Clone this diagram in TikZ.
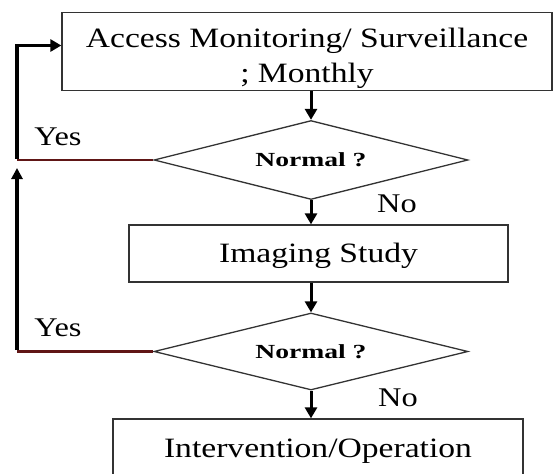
\documentclass[tikz,border=0pt]{standalone}
\usepackage{fontspec}
\setmainfont{Liberation Serif}[FakeStretch=1.2]
\newfontfamily\qfont{Liberation Serif}[FakeStretch=1.38]
\usetikzlibrary{shapes.geometric,arrows.meta}
\definecolor{loopred}{RGB}{96,22,22}

\begin{document}
\begin{tikzpicture}[x=1pt,y=-1pt,
	box/.style={draw=black!80, line width=1.3pt, inner sep=0pt, align=center, font=\fontsize{28}{35}\selectfont},
	onerow/.style={text height=18.5pt, text depth=0pt},
	test/.style={draw=black!80, diamond, line width=1.3pt, inner sep=0pt, minimum width=314pt, font=\qfont\fontsize{20}{24}\bfseries\selectfont},
	lbl/.style={inner sep=0pt, font=\fontsize{27}{32}\selectfont},
	arr/.style={line width=3pt, -{Triangle[width=12pt,length=11pt]}},
	yesline/.style={loopred, line width=2.5pt},
	back/.style={line width=3.5pt}]
			\useasboundingbox (0,0) rectangle (555,474);
			\node[box, minimum width=490pt, minimum height=78pt] (monitor) at (307,51.5) {\rule{0pt}{33pt}Access Monitoring/ Surveillance\\; Monthly};
			\node[test, shape aspect=3.97, minimum height=79pt] (normal1) at (311,160) {Normal ?};
			\node[box, onerow, minimum width=379pt, minimum height=57pt] (imaging) at (318.5,253.5) {Imaging Study};
			\node[test, shape aspect=4.08, minimum height=77pt] (normal2) at (311,351.5) {Normal ?};
			\node[box, onerow, minimum width=410pt, minimum height=58pt] (operation) at (318,448) {Intervention/Operation};
			\node[lbl] (yes1) at (58,137) {Yes};
			\node[lbl] (yes2) at (58,328) {Yes};
			\node[lbl] (no1) at (397,204) {No};
			\node[lbl] (no2) at (398,398) {No};
			\coordinate (left) at (17,0);
			\coordinate (tip) at (17,168);
			\draw[arr] (normal1.north |- monitor.south) -- (normal1.north);
			\draw[arr] (normal1.south) -- (normal1.south |- imaging.north);
			\draw[arr] (normal2.north |- imaging.south) -- (normal2.north);
			\draw[arr] (normal2.south) -- (normal2.south |- operation.north);
			\draw[yesline] (normal1.west) -- (normal1.west -| left);
			\draw[yesline] (normal2.west) -- (normal2.west -| left);
			\draw[back, -{Triangle[width=12pt,length=11pt]}] ([yshift=1.5pt]normal1.west -| left) |- ([yshift=6pt]monitor.west);
			\draw[back, -{Triangle[width=11pt,length=11pt]}] ([yshift=1.5pt]normal2.west -| left) -- (tip);
\end{tikzpicture}
\end{document}
